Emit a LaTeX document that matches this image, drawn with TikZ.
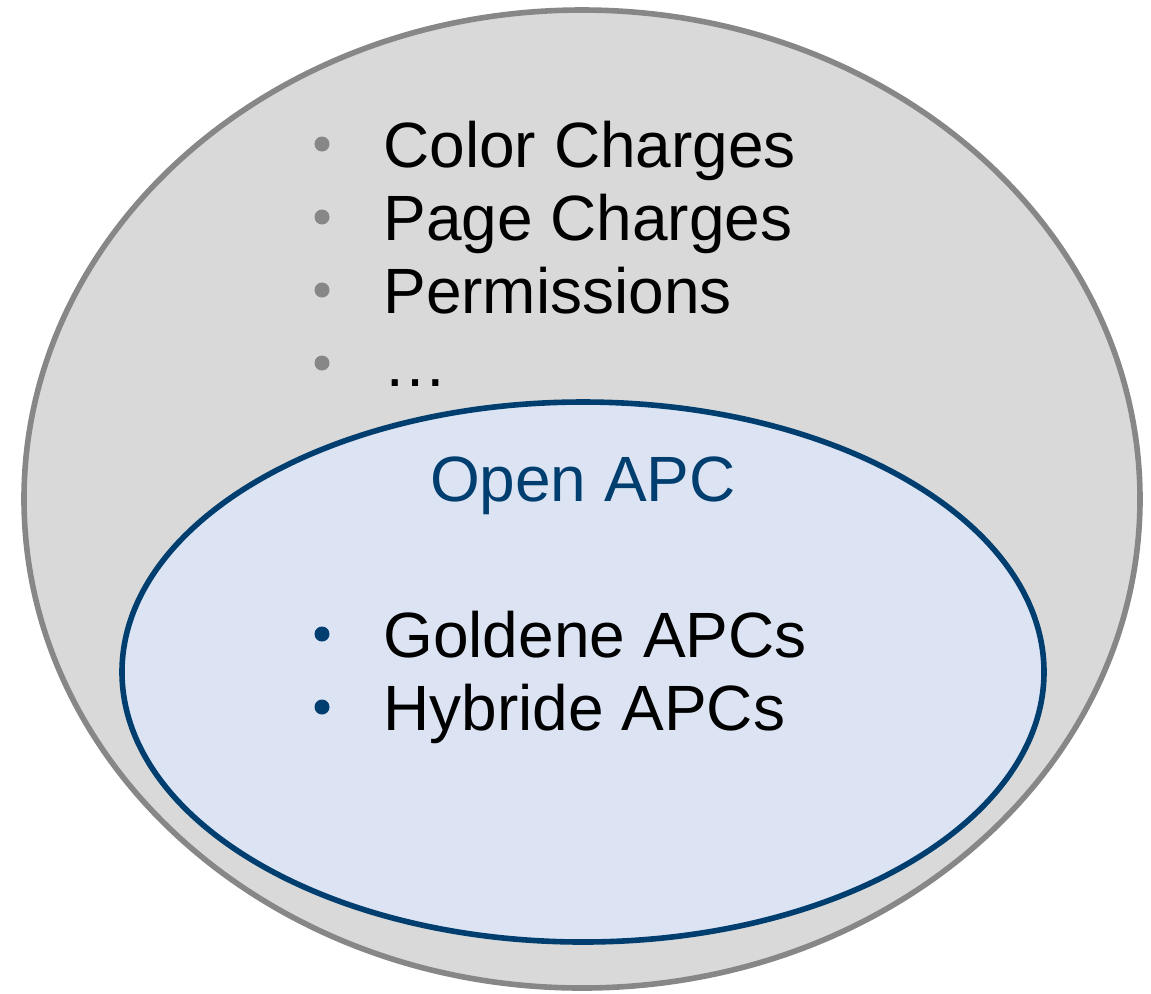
\documentclass[tikz,border=0pt]{standalone}
\usepackage{fontspec}
\setmainfont{Liberation Sans}
\usetikzlibrary{shapes.geometric}
\definecolor{setgray}{HTML}{878787}
\definecolor{setfill}{HTML}{D9D9D9}
\definecolor{apcblue}{HTML}{003E70}
\definecolor{apcfill}{HTML}{DCE3F2}
\tikzstyle{outerset}=[ellipse,draw=setgray,fill=setfill,line width=2.8pt,minimum width=558pt,minimum height=489pt,inner sep=0pt]
\tikzstyle{innerset}=[ellipse,draw=apcblue,fill=apcfill,line width=2.8pt,minimum width=461pt,minimum height=270pt,inner sep=0pt]
\tikzstyle{item}=[anchor=base west,inner sep=0pt,font=\fontsize{32}{36}\selectfont]
\tikzstyle{dot}=[circle,inner sep=0pt,minimum size=7.5pt]

\begin{document}
\begin{tikzpicture}[x=0.5pt,y=-0.5pt]
	\def \tx {383};
	\def \bx {322};
	\def \vstep {73};

	\useasboundingbox (0,0) rectangle (1151,993);

	\node[outerset] (charges) at (582,499) {};
	\node[innerset] (openapc) at (583,672) {};

	\foreach \txt [count=\i] in {Color Charges,Page Charges,Permissions,…} {
		\node[item] (item\i) at (\tx, 167+\vstep*\i-\vstep) {\txt};
		\node[dot,fill=setgray] (bullet\i) at (\bx, 144+\vstep*\i-\vstep) {};
	};

	\node[item,anchor=base,text=apcblue] (title) at (583,501) {Open APC};

	\foreach \txt [count=\i] in {Goldene APCs,Hybride APCs} {
		\node[item] (apc\i) at (\tx, 657+\vstep*\i-\vstep) {\txt};
		\node[dot,fill=apcblue] (apcbullet\i) at (\bx, 634+\vstep*\i-\vstep) {};
	};
\end{tikzpicture}
\end{document}
